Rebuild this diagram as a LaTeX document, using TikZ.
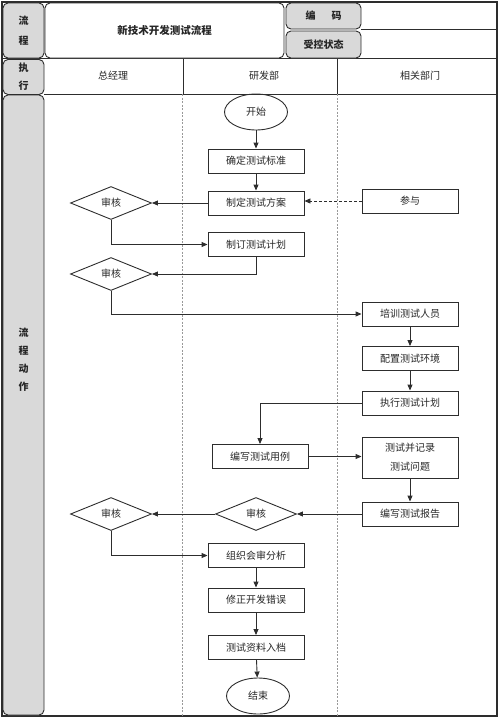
\documentclass[tikz,border=0pt]{standalone}
\usepackage{fontspec}
\setmainfont{Noto Sans CJK SC}
\usetikzlibrary{shapes.geometric,arrows.meta}
\definecolor{boxgray}{RGB}{217,217,217}
\definecolor{ln}{RGB}{45,45,45}
\tikzset{
  base/.style={draw=ln, line width=0.9pt, inner sep=0pt, font=\fontsize{10}{12}\selectfont, text=black!85},
  proc/.style={base, rectangle, minimum width=96pt, minimum height=24pt},
  dec/.style={base, diamond, minimum width=81pt, minimum height=33pt},
  term/.style={base, ellipse, minimum width=63pt, minimum height=36pt},
  gbox/.style={base, fill=boxgray, rounded corners=5pt, align=center},
  wbox/.style={base, fill=white, rounded corners=5pt},
  arr/.style={draw=ln, line width=0.9pt, -{Triangle[length=6pt,width=5pt]}},
  lane/.style={draw=gray!80, line width=0.8pt, dash pattern=on 2pt off 1.5pt},
  hdr/.style={font=\fontsize{10}{12}\selectfont, text=black!85}
}
\begin{document}
\begin{tikzpicture}[x=1pt,y=-1pt]
\useasboundingbox (0,0) rectangle (500,720);
% outer frame and grid
\draw[ln, line width=1.3pt] (2,2) rectangle (497,716);
\draw[ln, line width=0.9pt] (2,58) -- (497,58);
\draw[ln, line width=0.9pt] (361,29.5) -- (497,29.5);
\draw[ln, line width=0.9pt] (44,94) -- (497,94);
\draw[ln, line width=0.9pt] (183,58) -- (183,94);
\draw[ln, line width=0.9pt] (337,58) -- (337,94);
\draw[lane] (182,94) -- (182,716);
\draw[lane] (337,94) -- (337,716);
% header boxes
\node[gbox, minimum width=41pt, minimum height=55pt, font=\bfseries\fontsize{10}{20}\selectfont] (g1) at (23.5,30.5) {流\\程};
\node[wbox, minimum width=239pt, minimum height=55pt, font=\bfseries\fontsize{10.5}{12}\selectfont] (title) at (164.5,30.5) {新技术开发测试流程};
\node[gbox, minimum width=75pt, minimum height=26pt, font=\bfseries\fontsize{10}{12}\selectfont] (code) at (323.5,16) {编\hspace{1.6em}码};
\node[gbox, minimum width=75pt, minimum height=27pt, font=\bfseries\fontsize{10}{12}\selectfont] (ctrl) at (323.5,44.5) {受控状态};
\node[gbox, minimum width=41pt, minimum height=35pt, font=\bfseries\fontsize{10}{18}\selectfont] (g2) at (23.5,77) {执\\行};
\node[gbox, minimum width=41pt, minimum height=620pt, font=\bfseries\fontsize{10}{18}\selectfont] (g3) at (23.5,405) {};
\node[hdr, font=\bfseries\fontsize{10}{18}\selectfont, align=center] (g3t) at (23.5,360) {流\\程\\动\\作};
\node[hdr] (h1) at (113,76) {总经理};
\node[hdr] (h2) at (264,76) {研发部};
\node[hdr] (h3) at (420,76) {相关部门};
% flow nodes
\node[term] (start) at (256,112) {开始};
\node[proc] (s1) at (256,161) {确定测试标准};
\node[proc] (s2) at (256,203) {制定测试方案};
\node[proc] (s3) at (256,244.5) {制订测试计划};
\node[proc] (p1) at (410,201) {参与};
\node[dec] (d1) at (111,203) {审核};
\node[dec] (d2) at (111,274) {审核};
\node[proc] (r1) at (410,314) {培训测试人员};
\node[proc] (r2) at (410,358.5) {配置测试环境};
\node[proc] (r3) at (410,403) {执行测试计划};
\node[proc] (m4) at (260,456.5) {编写测试用例};
\node[proc, minimum height=41pt, align=center, font=\fontsize{10}{19}\selectfont] (r4) at (410,457.5) {测试并记录\\测试问题};
\node[proc] (r5) at (410,514) {编写测试报告};
\node[dec] (d3) at (256,514) {审核};
\node[dec] (d4) at (111,514) {审核};
\node[proc] (m5) at (256,555.5) {组织会审分析};
\node[proc] (m6) at (256,600) {修正开发错误};
\node[proc] (m7) at (256,647.5) {测试资料入档};
\node[term] (end) at (258,696) {结束};
% connectors
\draw[arr] (start) -- (s1);
\draw[arr] (s1) -- (s2);
\draw[arr] (s2.west) -- (d1.east);
\draw[arr, dash pattern=on 3pt off 2pt] (p1.west) -- (p1.west -| s2.east);
\draw[arr] (d1.south) |- (s3.west);
\draw[arr] (s3.south) |- (d2.east);
\draw[arr] (d2.south) |- (r1.west);
\draw[arr] (r1) -- (r2);
\draw[arr] (r2) -- (r3);
\draw[arr] (r3.west) -| (m4.north);
\draw[arr] (m4.east) -- (m4.east -| r4.west);
\draw[arr] (r4) -- (r5);
\draw[arr] (r5.west) -- (d3.east);
\draw[arr] (d3.west) -- (d4.east);
\draw[arr] (d4.south) |- (m5.west);
\draw[arr] (m5) -- (m6);
\draw[arr] (m6) -- (m7);
\draw[arr] (m7) -- (end);
\end{tikzpicture}
\end{document}
